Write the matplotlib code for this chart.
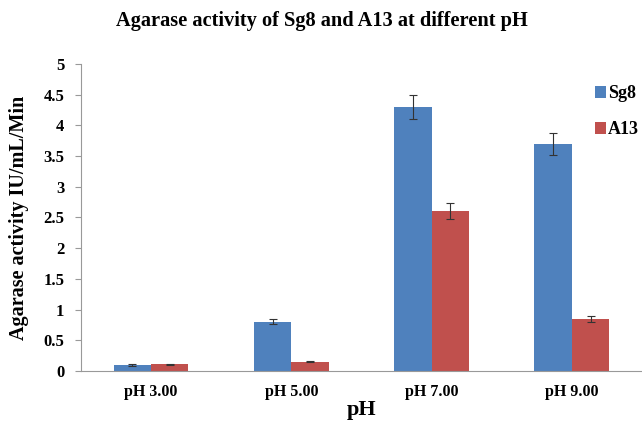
import numpy as np
import matplotlib.pyplot as plt

plt.rcParams['font.family'] = ['Liberation Serif', 'DejaVu Serif']
plt.rcParams['font.weight'] = 'bold'

# データ
categories = ['pH 3.00', 'pH 5.00', 'pH 7.00', 'pH 9.00']
sg8 = [0.10, 0.80, 4.30, 3.70]
sg8_err = [0.01, 0.04, 0.20, 0.18]
a13 = [0.11, 0.15, 2.60, 0.85]
a13_err = [0.01, 0.01, 0.13, 0.05]

fig = plt.figure(figsize=(6.42, 4.46), dpi=100)
ax = fig.add_axes([0.126, 0.168, 0.874, 0.689])

x = np.arange(len(categories))
w = 0.267
b1 = ax.bar(x - w / 2, sg8, w, color='#4F81BD', label='Sg8',
            yerr=sg8_err, error_kw=dict(ecolor='#333333', elinewidth=0.8, capsize=3, capthick=0.8))
b2 = ax.bar(x + w / 2, a13, w, color='#C0504D', label='A13',
            yerr=a13_err, error_kw=dict(ecolor='#333333', elinewidth=0.8, capsize=3, capthick=0.8))

ax.set_xlim(-0.5, 3.5)
ax.set_ylim(0, 5)
ax.set_yticks(np.arange(0, 5.01, 0.5))
ax.set_yticklabels(['0', '0.5', '1', '1.5', '2', '2.5', '3', '3.5', '4', '4.5', '5'])
ax.set_xticks(x)
ax.set_xticklabels(categories)
ax.tick_params(axis='x', length=0, pad=9, labelsize=11.5)
ax.tick_params(axis='y', length=4, color='#999999', labelsize=12, pad=8)

for s in ['top', 'right']:
    ax.spines[s].set_visible(False)
for s in ['left', 'bottom']:
    ax.spines[s].set_color('#999999')

ax.set_ylabel('Agarase activity IU/mL/Min', fontsize=14.5, fontweight='bold', labelpad=10)
ax.set_xlabel('pH', fontsize=16, fontweight='bold', labelpad=0)

fig.suptitle('Agarase activity of Sg8 and A13 at different pH', x=0.502, y=0.975,
             fontsize=14.7, fontweight='bold')

fig.legend(handles=[b1, b2], labels=['Sg8', 'A13'], loc='upper left',
           bbox_to_anchor=(0.918, 0.821), frameon=False, fontsize=13,
           handlelength=0.6, handleheight=0.6, handletextpad=0.15, labelspacing=1.05,
           borderaxespad=0, borderpad=0.3)

fig.savefig('out.png', dpi=100)
